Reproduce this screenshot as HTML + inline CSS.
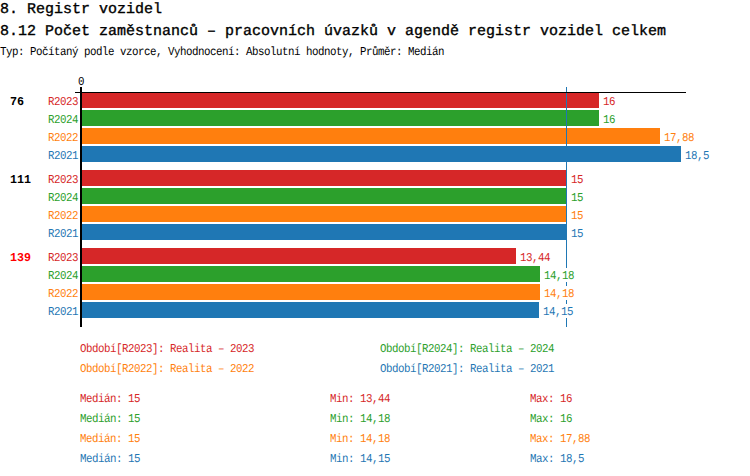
<!DOCTYPE html>
<html><head><meta charset="utf-8"><style>
html,body{margin:0;padding:0;background:#fff;}
body{width:750px;height:476px;position:relative;overflow:hidden;}
.t{position:absolute;white-space:pre;font-family:"Liberation Mono",monospace;transform-origin:0 0;text-rendering:geometricPrecision;}
.r{position:absolute;}
</style></head><body>
<div class="t" style="left:0px;top:2px;font-size:15px;line-height:15px;color:#000;-webkit-text-stroke:0.35px #000;">8. Registr vozidel</div>
<div class="t" style="left:0px;top:24px;font-size:15px;line-height:15px;color:#000;-webkit-text-stroke:0.35px #000;">8.12 Počet zaměstnanců – pracovních úvazků v agendě registr vozidel celkem</div>
<div class="t" style="left:0px;top:46px;font-size:12px;line-height:12px;color:#000;transform:scaleX(0.9000);letter-spacing:-0.533px;">Typ: Počítaný podle vzorce, Vyhodnocení: Absolutní hodnoty, Průměr: Medián</div>
<div class="t" style="left:78px;top:76px;font-size:12px;line-height:12px;color:#000;transform:scaleX(0.9000);letter-spacing:-0.533px;">0</div>
<div class="r" style="left:82px;top:92px;width:517px;height:16px;background:#d62728"></div>
<div class="r" style="left:82px;top:110px;width:517px;height:16px;background:#2ca02c"></div>
<div class="r" style="left:82px;top:128px;width:578px;height:16px;background:#ff7f0e"></div>
<div class="r" style="left:82px;top:146px;width:599px;height:16px;background:#1f77b4"></div>
<div class="r" style="left:82px;top:170px;width:485px;height:16px;background:#d62728"></div>
<div class="r" style="left:82px;top:188px;width:485px;height:16px;background:#2ca02c"></div>
<div class="r" style="left:82px;top:206px;width:485px;height:16px;background:#ff7f0e"></div>
<div class="r" style="left:82px;top:224px;width:485px;height:16px;background:#1f77b4"></div>
<div class="r" style="left:82px;top:248px;width:434px;height:16px;background:#d62728"></div>
<div class="r" style="left:82px;top:266px;width:458px;height:16px;background:#2ca02c"></div>
<div class="r" style="left:82px;top:284px;width:458px;height:16px;background:#ff7f0e"></div>
<div class="r" style="left:82px;top:302px;width:457px;height:16px;background:#1f77b4"></div>
<div class="r" style="left:566px;top:87px;width:1px;height:240px;background:#1f77b4"></div>
<div class="r" style="left:602px;top:94px;width:14px;height:14px;background:#fff"></div>
<div class="r" style="left:602px;top:112px;width:14px;height:14px;background:#fff"></div>
<div class="r" style="left:663px;top:130px;width:32px;height:14px;background:#fff"></div>
<div class="r" style="left:684px;top:148px;width:26px;height:14px;background:#fff"></div>
<div class="r" style="left:570px;top:172px;width:14px;height:14px;background:#fff"></div>
<div class="r" style="left:570px;top:190px;width:14px;height:14px;background:#fff"></div>
<div class="r" style="left:570px;top:208px;width:14px;height:14px;background:#fff"></div>
<div class="r" style="left:570px;top:226px;width:14px;height:14px;background:#fff"></div>
<div class="r" style="left:519px;top:250px;width:32px;height:14px;background:#fff"></div>
<div class="r" style="left:543px;top:268px;width:32px;height:14px;background:#fff"></div>
<div class="r" style="left:543px;top:286px;width:32px;height:14px;background:#fff"></div>
<div class="r" style="left:542px;top:304px;width:32px;height:14px;background:#fff"></div>
<div class="t" style="left:10px;top:96px;font-size:12px;line-height:12px;color:#000;font-weight:bold;transform:scaleX(0.9722);">76</div>
<div class="t" style="left:48px;top:96px;font-size:12px;line-height:12px;color:#d62728;transform:scaleX(0.9000);letter-spacing:-0.533px;">R2023</div>
<div class="t" style="left:603px;top:96px;font-size:12px;line-height:12px;color:#d62728;transform:scaleX(0.9000);letter-spacing:-0.533px;">16</div>
<div class="t" style="left:48px;top:114px;font-size:12px;line-height:12px;color:#2ca02c;transform:scaleX(0.9000);letter-spacing:-0.533px;">R2024</div>
<div class="t" style="left:603px;top:114px;font-size:12px;line-height:12px;color:#2ca02c;transform:scaleX(0.9000);letter-spacing:-0.533px;">16</div>
<div class="t" style="left:48px;top:132px;font-size:12px;line-height:12px;color:#ff7f0e;transform:scaleX(0.9000);letter-spacing:-0.533px;">R2022</div>
<div class="t" style="left:664px;top:132px;font-size:12px;line-height:12px;color:#ff7f0e;transform:scaleX(0.9000);letter-spacing:-0.533px;">17,88</div>
<div class="t" style="left:48px;top:150px;font-size:12px;line-height:12px;color:#1f77b4;transform:scaleX(0.9000);letter-spacing:-0.533px;">R2021</div>
<div class="t" style="left:685px;top:150px;font-size:12px;line-height:12px;color:#1f77b4;transform:scaleX(0.9000);letter-spacing:-0.533px;">18,5</div>
<div class="t" style="left:10px;top:174px;font-size:12px;line-height:12px;color:#000;font-weight:bold;transform:scaleX(0.9722);">111</div>
<div class="t" style="left:48px;top:174px;font-size:12px;line-height:12px;color:#d62728;transform:scaleX(0.9000);letter-spacing:-0.533px;">R2023</div>
<div class="t" style="left:571px;top:174px;font-size:12px;line-height:12px;color:#d62728;transform:scaleX(0.9000);letter-spacing:-0.533px;">15</div>
<div class="t" style="left:48px;top:192px;font-size:12px;line-height:12px;color:#2ca02c;transform:scaleX(0.9000);letter-spacing:-0.533px;">R2024</div>
<div class="t" style="left:571px;top:192px;font-size:12px;line-height:12px;color:#2ca02c;transform:scaleX(0.9000);letter-spacing:-0.533px;">15</div>
<div class="t" style="left:48px;top:210px;font-size:12px;line-height:12px;color:#ff7f0e;transform:scaleX(0.9000);letter-spacing:-0.533px;">R2022</div>
<div class="t" style="left:571px;top:210px;font-size:12px;line-height:12px;color:#ff7f0e;transform:scaleX(0.9000);letter-spacing:-0.533px;">15</div>
<div class="t" style="left:48px;top:228px;font-size:12px;line-height:12px;color:#1f77b4;transform:scaleX(0.9000);letter-spacing:-0.533px;">R2021</div>
<div class="t" style="left:571px;top:228px;font-size:12px;line-height:12px;color:#1f77b4;transform:scaleX(0.9000);letter-spacing:-0.533px;">15</div>
<div class="t" style="left:10px;top:252px;font-size:12px;line-height:12px;color:#ff0000;font-weight:bold;transform:scaleX(0.9722);">139</div>
<div class="t" style="left:48px;top:252px;font-size:12px;line-height:12px;color:#d62728;transform:scaleX(0.9000);letter-spacing:-0.533px;">R2023</div>
<div class="t" style="left:520px;top:252px;font-size:12px;line-height:12px;color:#d62728;transform:scaleX(0.9000);letter-spacing:-0.533px;">13,44</div>
<div class="t" style="left:48px;top:270px;font-size:12px;line-height:12px;color:#2ca02c;transform:scaleX(0.9000);letter-spacing:-0.533px;">R2024</div>
<div class="t" style="left:544px;top:270px;font-size:12px;line-height:12px;color:#2ca02c;transform:scaleX(0.9000);letter-spacing:-0.533px;">14,18</div>
<div class="t" style="left:48px;top:288px;font-size:12px;line-height:12px;color:#ff7f0e;transform:scaleX(0.9000);letter-spacing:-0.533px;">R2022</div>
<div class="t" style="left:544px;top:288px;font-size:12px;line-height:12px;color:#ff7f0e;transform:scaleX(0.9000);letter-spacing:-0.533px;">14,18</div>
<div class="t" style="left:48px;top:306px;font-size:12px;line-height:12px;color:#1f77b4;transform:scaleX(0.9000);letter-spacing:-0.533px;">R2021</div>
<div class="t" style="left:543px;top:306px;font-size:12px;line-height:12px;color:#1f77b4;transform:scaleX(0.9000);letter-spacing:-0.533px;">14,15</div>
<div class="r" style="left:80px;top:87px;width:2px;height:240px;background:#000"></div>
<div class="r" style="left:75px;top:92px;width:611px;height:1px;background:#000"></div>
<div class="t" style="left:80px;top:343px;font-size:12px;line-height:12px;color:#d62728;transform:scaleX(0.9000);letter-spacing:-0.533px;">Období[R2023]: Realita – 2023</div>
<div class="t" style="left:380px;top:343px;font-size:12px;line-height:12px;color:#2ca02c;transform:scaleX(0.9000);letter-spacing:-0.533px;">Období[R2024]: Realita – 2024</div>
<div class="t" style="left:80px;top:363px;font-size:12px;line-height:12px;color:#ff7f0e;transform:scaleX(0.9000);letter-spacing:-0.533px;">Období[R2022]: Realita – 2022</div>
<div class="t" style="left:380px;top:363px;font-size:12px;line-height:12px;color:#1f77b4;transform:scaleX(0.9000);letter-spacing:-0.533px;">Období[R2021]: Realita – 2021</div>
<div class="t" style="left:80px;top:393px;font-size:12px;line-height:12px;color:#d62728;transform:scaleX(0.9000);letter-spacing:-0.533px;">Medián: 15</div>
<div class="t" style="left:330px;top:393px;font-size:12px;line-height:12px;color:#d62728;transform:scaleX(0.9000);letter-spacing:-0.533px;">Min: 13,44</div>
<div class="t" style="left:530px;top:393px;font-size:12px;line-height:12px;color:#d62728;transform:scaleX(0.9000);letter-spacing:-0.533px;">Max: 16</div>
<div class="t" style="left:80px;top:413px;font-size:12px;line-height:12px;color:#2ca02c;transform:scaleX(0.9000);letter-spacing:-0.533px;">Medián: 15</div>
<div class="t" style="left:330px;top:413px;font-size:12px;line-height:12px;color:#2ca02c;transform:scaleX(0.9000);letter-spacing:-0.533px;">Min: 14,18</div>
<div class="t" style="left:530px;top:413px;font-size:12px;line-height:12px;color:#2ca02c;transform:scaleX(0.9000);letter-spacing:-0.533px;">Max: 16</div>
<div class="t" style="left:80px;top:433px;font-size:12px;line-height:12px;color:#ff7f0e;transform:scaleX(0.9000);letter-spacing:-0.533px;">Medián: 15</div>
<div class="t" style="left:330px;top:433px;font-size:12px;line-height:12px;color:#ff7f0e;transform:scaleX(0.9000);letter-spacing:-0.533px;">Min: 14,18</div>
<div class="t" style="left:530px;top:433px;font-size:12px;line-height:12px;color:#ff7f0e;transform:scaleX(0.9000);letter-spacing:-0.533px;">Max: 17,88</div>
<div class="t" style="left:80px;top:453px;font-size:12px;line-height:12px;color:#1f77b4;transform:scaleX(0.9000);letter-spacing:-0.533px;">Medián: 15</div>
<div class="t" style="left:330px;top:453px;font-size:12px;line-height:12px;color:#1f77b4;transform:scaleX(0.9000);letter-spacing:-0.533px;">Min: 14,15</div>
<div class="t" style="left:530px;top:453px;font-size:12px;line-height:12px;color:#1f77b4;transform:scaleX(0.9000);letter-spacing:-0.533px;">Max: 18,5</div>
</body></html>
